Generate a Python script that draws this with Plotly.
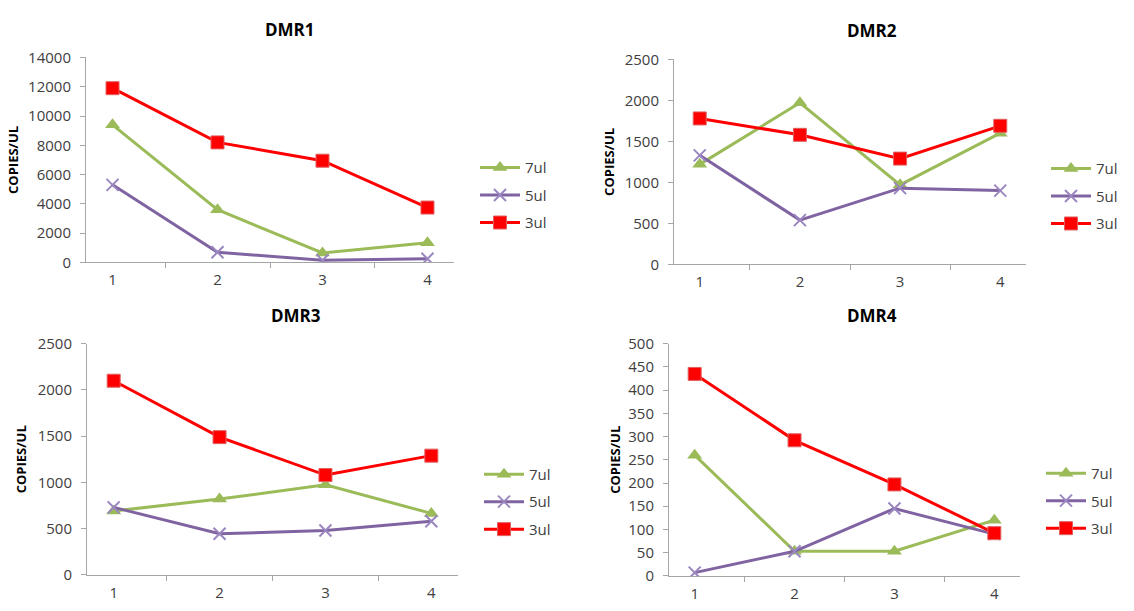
import plotly.graph_objects as go

categories = ["1", "2", "3", "4"]
series_names = ["7ul", "5ul", "3ul"]
panel_titles = ["DMR1", "DMR2", "DMR3", "DMR4"]

dmr1_7ul = [9400, 3600, 650, 1350]
dmr1_5ul = [5300, 700, 150, 250]
dmr1_3ul = [11900, 8200, 6950, 3750]

dmr2_7ul = [1220, 1970, 970, 1600]
dmr2_5ul = [1330, 540, 930, 900]
dmr2_3ul = [1780, 1580, 1290, 1690]

dmr3_7ul = [690, 820, 975, 665]
dmr3_5ul = [730, 445, 480, 580]
dmr3_3ul = [2100, 1490, 1080, 1290]

dmr4_7ul = [260, 53, 53, 120]
dmr4_5ul = [7, 53, 145, 90]
dmr4_3ul = [435, 292, 197, 92]

y_ranges = [[0, 14000], [0, 2500], [0, 2500], [0, 500]]
y_dticks = [2000, 500, 500, 50]

panels = [
    [dmr1_7ul, dmr1_5ul, dmr1_3ul],
    [dmr2_7ul, dmr2_5ul, dmr2_3ul],
    [dmr3_7ul, dmr3_5ul, dmr3_3ul],
    [dmr4_7ul, dmr4_5ul, dmr4_3ul],
]

W, H = 1134, 611
# pixel layout of each panel: x0, x1, ytop, ybottom
boxes = [
    (86, 454, 48, 260),
    (674, 1026, 50, 262),
    (87, 458, 344, 583),
    (669, 1020, 344, 584),
]
title_pos = [(290, 19), (872, 20), (296, 315), (872, 315)]
ytitle_x = [13, 609, 21, 615]
legend_pos = [(475, 145), (1046, 146), (479, 462), (1041, 461)]

GREEN = "#9bbb59"
PURPLE = "#8064a2"
RED = "#ff0000"
TXT = "#404040"
AXC = "#a6a6a6"
FONT = "Open Sans"

styles = [
    dict(line=dict(color=GREEN, width=3),
         marker=dict(symbol="triangle-up", size=13, color=GREEN, line=dict(color=GREEN, width=0))),
    dict(line=dict(color=PURPLE, width=3),
         marker=dict(symbol="x-thin", size=12, color=PURPLE, line=dict(color="#9a86c0", width=2))),
    dict(line=dict(color=RED, width=3),
         marker=dict(symbol="square", size=13, color=RED, line=dict(color="#e06060", width=1))),
]

fig = go.Figure()
annotations = []
layout = {}
for i, series in enumerate(panels):
    n = "" if i == 0 else str(i + 1)
    lg = "legend" if i == 0 else "legend" + str(i + 1)
    for j, vals in enumerate(series):
        fig.add_trace(go.Scatter(
            x=categories, y=vals, name=series_names[j], mode="lines+markers",
            xaxis="x" + n, yaxis="y" + n, legend=lg, legendgroup=f"g{i}_{j}",
            **styles[j]))
    x0, x1, yt, yb = boxes[i]
    layout["xaxis" + n] = dict(
        domain=[x0 / W, x1 / W], anchor="y" + n, type="category",
        tickson="boundaries", ticks="outside", ticklen=5, tickcolor=AXC,
        showline=True, linecolor=AXC, linewidth=1, showgrid=False, zeroline=False,
        ticklabelstandoff=4,
        tickfont=dict(size=15, color=TXT, family=FONT), fixedrange=True)
    layout["yaxis" + n] = dict(
        domain=[1 - yb / H, 1 - yt / H], anchor="x" + n, range=y_ranges[i],
        dtick=y_dticks[i], tickformat="d", ticks="outside", ticklen=5, tickcolor=AXC,
        showline=True, linecolor=AXC, linewidth=1, showgrid=False, zeroline=False,
        ticklabelstandoff=6,
        tickfont=dict(size=15, color=TXT, family=FONT), fixedrange=True)
    lx, ly = legend_pos[i]
    layout[lg] = dict(
        x=lx / W, y=1 - ly / H, xanchor="left", yanchor="top",
        font=dict(size=15, color=TXT, family=FONT),
        bgcolor="rgba(0,0,0,0)", tracegroupgap=5, traceorder="grouped",
        itemwidth=40)
    tx, ty = title_pos[i]
    annotations.append(dict(
        text="<b>" + panel_titles[i] + "</b>", x=tx / W, y=1 - ty / H,
        xref="paper", yref="paper", showarrow=False, xanchor="center", yanchor="middle",
        font=dict(size=17, color="#000000", family=FONT)))
    annotations.append(dict(
        text="<b>COPIES/UL</b>", x=ytitle_x[i] / W, y=1 - ((yt + yb) / 2) / H,
        xref="paper", yref="paper", showarrow=False, textangle=-90,
        xanchor="center", yanchor="middle",
        font=dict(size=13, color="#000000", family=FONT)))

fig.update_layout(
    width=W, height=H, margin=dict(l=0, r=0, t=0, b=0),
    paper_bgcolor="white", plot_bgcolor="white",
    annotations=annotations, showlegend=True, **layout)

fig.write_html("out.html")
